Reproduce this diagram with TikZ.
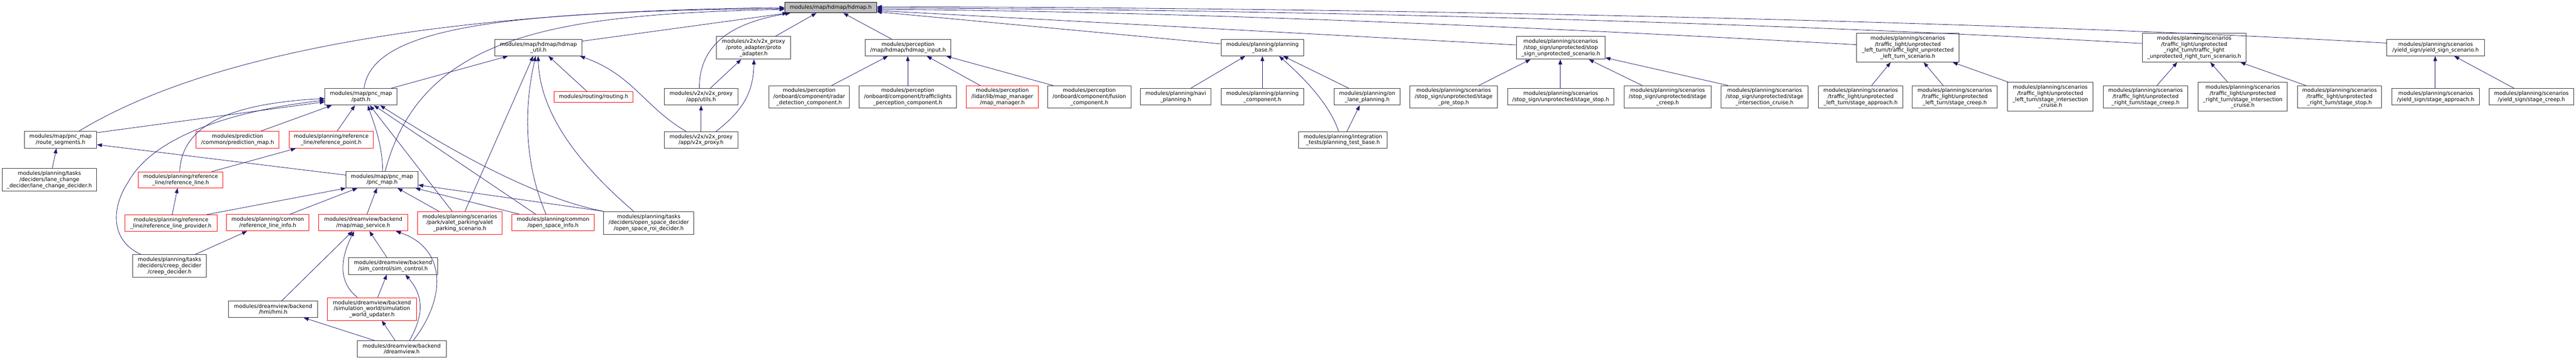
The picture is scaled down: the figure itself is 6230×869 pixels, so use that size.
\documentclass[tikz,border=0pt]{standalone}
\usepackage{fontspec}
\setmainfont{DejaVu Sans}
\usepackage{tikz}
\usetikzlibrary{arrows.meta}
\definecolor{edgeblue}{HTML}{191970}
\definecolor{rootgray}{HTML}{BFBFBF}
\newcommand{\hnode}[7][file]{\node[#1, minimum width={#4-#3}, minimum height={#6-#5}] (#2) at ({(#3+#4)/2},{(#5+#6)/2}) {#7};}
\begin{document}
\begin{tikzpicture}[x=1pt, y=-1pt, >={Triangle[length=12pt, width=9pt]},
  file/.style={draw=black!80, line width=1.1pt, inner sep=0pt, align=center, font=\fontsize{12.85}{14.7}\selectfont},
  trunc/.style={file, draw=red},
  root/.style={file, fill=rootgray, draw=black},
  inc/.style={<-, draw=edgeblue, line width=1pt}]
\useasboundingbox (0,0) rectangle (6230,869);
\hnode[root]{hdmap}{1898}{2120}{6}{31}{modules/map/hdmap/hdmap.h}
\hnode{segs}{59}{234}{317}{358}{modules/map/pnc\_map\\/route\_segments.h}
\hnode{lcd}{5}{234}{407}{462}{modules/planning/tasks\hfill\\/deciders/lane\_change\hfill\\\_decider/lane\_change\_decider.h}
\hnode[trunc]{predmap}{474}{675}{317}{358}{modules/prediction\hfill\\/common/prediction\_map.h}
\hnode[trunc]{refpt}{699}{903}{317}{358}{modules/planning/reference\\\_line/reference\_point.h}
\hnode[trunc]{refline}{335}{539}{415}{454}{modules/planning/reference\\\_line/reference\_line.h}
\hnode[trunc]{refprov}{302}{525}{519}{559}{modules/planning/reference\hfill\\\_line/reference\_line\_provider.h}
\hnode[trunc]{refinfo}{548}{747}{518}{558}{modules/planning/common\\/reference\_line\_info.h}
\hnode{creep}{321}{499}{615}{670}{modules/planning/tasks\\/deciders/creep\_decider\\/creep\_decider.h}
\hnode{hmi}{553}{768}{727}{767}{modules/dreamview/backend\\/hmi/hmi.h}
\hnode{path}{786}{960}{214}{254}{modules/map/pnc\_map\\/path.h}
\hnode{util}{1197}{1407}{95}{135}{modules/map/hdmap/hdmap\\\_util.h}
\hnode{pncmap}{837}{1011}{414}{454}{modules/map/pnc\_map\\/pnc\_map.h}
\hnode[trunc]{mapsrv}{771}{986}{518}{558}{modules/dreamview/backend\\/map/map\_service.h}
\hnode[trunc]{valet}{1010}{1214}{511}{566}{modules/planning/scenarios\\/park/valet\_parking/valet\\\_parking\_scenario.h}
\hnode[trunc]{osinfo}{1238}{1437}{518}{558}{modules/planning/common\\/open\_space\_info.h}
\hnode{simctl}{843}{1058}{622}{663}{modules/dreamview/backend\\/sim\_control/sim\_control.h}
\hnode[trunc]{simworld}{792}{1007}{719}{774}{modules/dreamview/backend\\/simulation\_world/simulation\\\_world\_updater.h}
\hnode{dview}{864}{1079}{823}{863}{modules/dreamview/backend\\/dreamview.h}
\hnode{roi}{1460}{1678}{511}{566}{modules/planning/tasks\hfill\\/deciders/open\_space\_decider\\/open\_space\_roi\_decider.h}
\hnode[trunc]{routing}{1340}{1531}{221}{247}{modules/routing/routing.h}
\hnode{utils}{1606}{1785}{214}{254}{modules/v2x/v2x\_proxy\\/app/utils.h}
\hnode{proxy}{1606}{1785}{318}{358}{modules/v2x/v2x\_proxy\\/app/v2x\_proxy.h}
\hnode{adapter}{1733}{1912}{88}{143}{modules/v2x/v2x\_proxy\\/proto\_adapter/proto\\\_adapter.h}
\hnode{input}{2093}{2299}{95}{135}{modules/perception\hfill\\/map/hdmap/hdmap\_input.h}
\hnode{radar}{1860}{2054}{207}{261}{modules/perception\hfill\\/onboard/component/radar\\\_detection\_component.h}
\hnode{tlights}{2078}{2313}{207}{261}{modules/perception\hfill\\/onboard/component/trafficlights\\\_perception\_component.h}
\hnode[trunc]{mapmgr}{2337}{2511}{207}{261}{modules/perception\hfill\\/lidar/lib/map\_manager\\/map\_manager.h}
\hnode{fusion}{2534}{2735}{207}{261}{modules/perception\hfill\\/onboard/component/fusion\\\_component.h}
\hnode{pbase}{2953}{3153}{95}{135}{modules/planning/planning\\\_base.h}
\hnode{navi}{2758}{2929}{214}{254}{modules/planning/navi\\\_planning.h}
\hnode{pcomp}{2953}{3153}{214}{254}{modules/planning/planning\\\_component.h}
\hnode{onlane}{3227}{3386}{214}{254}{modules/planning/on\\\_lane\_planning.h}
\hnode{testbase}{3141}{3355}{318}{358}{modules/planning/integration\\\_tests/planning\_test\_base.h}
\hnode{ssscen}{3667}{3882}{88}{143}{modules/planning/scenarios\hfill\\/stop\_sign/unprotected/stop\hfill\\\_sign\_unprotected\_scenario.h}
\hnode{sspre}{3410}{3621}{207}{261}{modules/planning/scenarios\hfill\\/stop\_sign/unprotected/stage\\\_pre\_stop.h}
\hnode{ssstop}{3646}{3903}{214}{254}{modules/planning/scenarios\hfill\\/stop\_sign/unprotected/stage\_stop.h}
\hnode{sscreep}{3928}{4138}{207}{261}{modules/planning/scenarios\hfill\\/stop\_sign/unprotected/stage\\\_creep.h}
\hnode{sscruise}{4162}{4373}{207}{261}{modules/planning/scenarios\hfill\\/stop\_sign/unprotected/stage\\\_intersection\_cruise.h}
\hnode{tllscen}{4490}{4738}{80}{150}{modules/planning/scenarios\hfill\\/traffic\_light/unprotected\hfill\\\_left\_turn/traffic\_light\_unprotected\hfill\\\_left\_turn\_scenario.h}
\hnode{tllappr}{4398}{4602}{207}{261}{modules/planning/scenarios\hfill\\/traffic\_light/unprotected\hfill\\\_left\_turn/stage\_approach.h}
\hnode{tllcreep}{4625}{4830}{207}{261}{modules/planning/scenarios\hfill\\/traffic\_light/unprotected\hfill\\\_left\_turn/stage\_creep.h}
\hnode{tllcruise}{4855}{5062}{199}{268}{modules/planning/scenarios\hfill\\/traffic\_light/unprotected\hfill\\\_left\_turn/stage\_intersection\hfill\\\_cruise.h}
\hnode{tlrscen}{5181}{5432}{80}{150}{modules/planning/scenarios\hfill\\/traffic\_light/unprotected\hfill\\\_right\_turn/traffic\_light\hfill\\\_unprotected\_right\_turn\_scenario.h}
\hnode{tlrcreep}{5087}{5291}{207}{261}{modules/planning/scenarios\hfill\\/traffic\_light/unprotected\hfill\\\_right\_turn/stage\_creep.h}
\hnode{tlrcruise}{5316}{5532}{199}{268}{modules/planning/scenarios\hfill\\/traffic\_light/unprotected\hfill\\\_right\_turn/stage\_intersection\hfill\\\_cruise.h}
\hnode{tlrstop}{5556}{5760}{207}{261}{modules/planning/scenarios\hfill\\/traffic\_light/unprotected\hfill\\\_right\_turn/stage\_stop.h}
\hnode{ysscen}{5772}{6009}{95}{135}{modules/planning/scenarios\hfill\\/yield\_sign/yield\_sign\_scenario.h}
\hnode{ysappr}{5785}{5996}{214}{254}{modules/planning/scenarios\hfill\\/yield\_sign/stage\_approach.h}
\hnode{yscreep}{6020}{6224}{214}{254}{modules/planning/scenarios\\/yield\_sign/stage\_creep.h}
\draw[inc] (hdmap.west) .. controls (1200,25) and (550,100) .. ([xshift=133pt]segs.north west);
\draw[inc] ([yshift=-2pt]hdmap.west) .. controls (1250,28) and (900,60) .. ([xshift=95pt]path.north west);
\draw[inc] ([yshift=-4pt]hdmap.west) .. controls (1350,35) and (1020,80) .. ([xshift=95pt]pncmap.north west);
\draw[inc] ([xshift=7pt]hdmap.south west) -- ([yshift=-5pt]util.north east);
\draw[inc] ([xshift=14pt]hdmap.south west) .. controls (1800,50) and (1690,90) .. ([xshift=86pt]utils.north west);
\draw[inc] ([xshift=77pt]hdmap.south west) -- ([xshift=143pt]adapter.north west);
\draw[inc] ([xshift=142pt]hdmap.south west) -- ([xshift=64pt]input.north west);
\draw[inc] ([yshift=-10pt]hdmap.east) -- ([yshift=9pt]pbase.west);
\draw[inc] ([yshift=-7pt]hdmap.east) -- ([yshift=7pt]ssscen.west);
\draw[inc] ([yshift=-4pt]hdmap.east) .. controls (2900,28) and (3800,70) .. ([yshift=7pt]tllscen.west);
\draw[inc] ([yshift=-1pt]hdmap.east) .. controls (3100,22) and (4300,55) .. ([yshift=10pt]tlrscen.west);
\draw[inc] ([yshift=2pt]hdmap.east) .. controls (3300,18) and (4800,50) .. ([yshift=11pt]ysscen.west);
\draw[inc] ([xshift=55pt]input.south west) -- ([xshift=152pt]radar.north west);
\draw[inc] ([xshift=103pt]input.south west) -- ([xshift=118pt]tlights.north west);
\draw[inc] ([xshift=149pt]input.south west) -- ([xshift=34pt]mapmgr.north west);
\draw[inc] ([xshift=196pt]input.south west) -- ([xshift=13pt]fusion.north west);
\draw[inc] ([xshift=59pt]pbase.south west) -- ([xshift=122pt]navi.north west);
\draw[inc] (pbase.south) -- (pcomp.north);
\draw[inc] ([xshift=141pt]pbase.south west) .. controls (3150,185) and (3215,250) .. ([xshift=97pt]testbase.north west);
\draw[inc] ([xshift=151pt]pbase.south west) -- ([xshift=36pt]onlane.north west);
\draw[inc] ([xshift=62pt]onlane.south west) -- ([xshift=117pt]testbase.north west);
\draw[inc] ([xshift=35pt]ssscen.south west) -- ([xshift=167pt]sspre.north west);
\draw[inc] ([xshift=107pt]ssscen.south west) -- ([xshift=128pt]ssstop.north west);
\draw[inc] ([xshift=176pt]ssscen.south west) -- ([xshift=44pt]sscreep.north west);
\draw[inc] ([yshift=4pt]ssscen.south east) -- ([xshift=18pt]sscruise.north west);
\draw[inc] ([xshift=83pt]tllscen.south west) -- ([xshift=129pt]tllappr.north west);
\draw[inc] ([xshift=163pt]tllscen.south west) -- ([xshift=75pt]tllcreep.north west);
\draw[inc] ([xshift=233pt]tllscen.south west) -- ([xshift=3pt]tllcruise.north west);
\draw[inc] ([xshift=85pt]tlrscen.south west) -- ([xshift=130pt]tlrcreep.north west);
\draw[inc] ([xshift=165pt]tlrscen.south west) -- ([xshift=72pt]tlrcruise.north west);
\draw[inc] ([xshift=238pt]tlrscen.south west) -- ([xshift=21pt]tlrstop.north west);
\draw[inc] ([xshift=118pt]ysscen.south west) -- ([xshift=105pt]ysappr.north west);
\draw[inc] ([xshift=164pt]ysscen.south west) -- ([xshift=61pt]yscreep.north west);
\draw[inc] ([xshift=78pt]segs.south west) -- ([xshift=122pt]lcd.north west);
\draw[inc] ([yshift=-12pt]segs.east) -- ([yshift=11pt]pncmap.west);
\draw[inc] ([yshift=-12pt]path.west) -- ([yshift=-4pt]segs.north east);
\draw[inc] ([yshift=-4pt]path.west) .. controls (560,250) and (440,300) .. ([xshift=100pt]refline.north west);
\draw[inc] ([yshift=-8pt]path.west) .. controls (560,268) and (370,330) .. (310,440) .. controls (270,500) and (265,580) .. ([xshift=20pt]creep.north west);
\draw[inc] ([xshift=17pt]path.south west) -- ([xshift=158pt]predmap.north west);
\draw[inc] ([xshift=73pt]path.south west) -- ([xshift=117pt]refpt.north west);
\draw[inc] ([xshift=104pt]path.south west) .. controls (905,300) and (925,350) .. ([xshift=89pt]pncmap.north west);
\draw[inc] ([xshift=109pt]path.south west) -- ([xshift=84pt]valet.north west);
\draw[inc] ([xshift=119pt]path.south west) -- ([xshift=58pt]osinfo.north west);
\draw[inc] ([xshift=134pt]path.south west) .. controls (1100,370) and (1300,480) .. (roi.north west);
\draw[inc] ([xshift=32pt]util.south west) -- ([xshift=160pt]path.north west);
\draw[inc] ([xshift=93pt]util.south west) -- ([xshift=115pt]valet.north west);
\draw[inc] ([xshift=99pt]util.south west) .. controls (1265,270) and (1270,400) .. ([xshift=83pt]osinfo.north west);
\draw[inc] ([xshift=105pt]util.south west) .. controls (1305,260) and (1380,380) .. ([xshift=73pt]roi.north west);
\draw[inc] ([xshift=130pt]util.south west) -- ([xshift=80pt]routing.north west);
\draw[inc] ([xshift=-5pt]util.south east) .. controls (1530,180) and (1560,260) .. ([xshift=54pt]proxy.north west);
\draw[inc] ([xshift=60pt]adapter.south west) -- ([xshift=112pt]utils.north west);
\draw[inc] (utils.south) -- (proxy.north);
\draw[inc] ([xshift=91pt]adapter.south west) .. controls (1822,220) and (1800,265) .. ([xshift=126pt]proxy.north west);
\draw[inc] ([xshift=95pt]refline.south west) -- ([xshift=115pt]refprov.north west);
\draw[inc] (pncmap.south west) -- ([xshift=198pt]refprov.north west);
\draw[inc] ([xshift=17pt]refpt.south west) -- ([xshift=178pt]refline.north west);
\draw[inc] ([xshift=28pt]pncmap.south west) -- ([xshift=154pt]refinfo.north west);
\draw[inc] ([xshift=75pt]pncmap.south west) -- ([xshift=117pt]mapsrv.north west);
\draw[inc] ([xshift=125pt]pncmap.south west) -- ([xshift=52pt]valet.north west);
\draw[inc] ([xshift=168pt]pncmap.south west) -- ([xshift=19pt]osinfo.north west);
\draw[inc] ([yshift=-13pt]pncmap.east) -- (roi.north west);
\draw[inc] ([xshift=50pt]refinfo.south west) -- ([xshift=152pt]creep.north west);
\draw[inc] ([xshift=82pt]mapsrv.south west) -- ([xshift=129pt]hmi.north west);
\draw[inc] ([xshift=86pt]mapsrv.south west) .. controls (825,620) and (815,680) .. ([xshift=73pt]simworld.north west);
\draw[inc] ([xshift=123pt]mapsrv.south west) -- ([xshift=93pt]simctl.north west);
\draw[inc] ([xshift=187pt]mapsrv.south west) .. controls (1080,600) and (1080,720) .. ([xshift=136pt]dview.north west);
\draw[inc] ([xshift=93pt]simctl.south west) -- ([xshift=122pt]simworld.north west);
\draw[inc] ([xshift=138pt]simctl.south west) .. controls (1030,720) and (1020,770) .. ([xshift=127pt]dview.north west);
\draw[inc] ([xshift=132pt]simworld.south west) -- ([xshift=92pt]dview.north west);
\draw[inc] ([xshift=182pt]hmi.south west) -- ([xshift=42pt]dview.north west);
\end{tikzpicture}
\end{document}
